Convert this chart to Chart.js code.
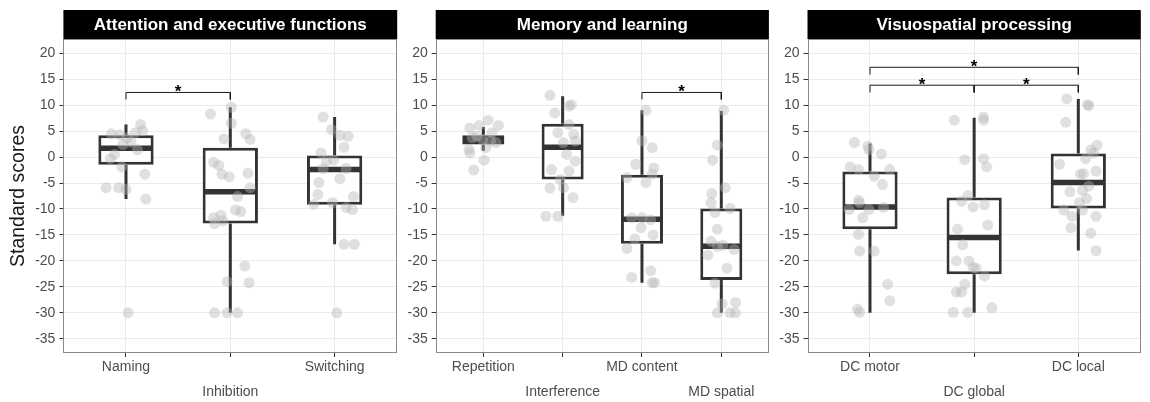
<!DOCTYPE html>
<html>
<head>
<meta charset="utf-8">
<script src="https://cdn.jsdelivr.net/npm/chart.js@4.4.1/dist/chart.umd.min.js"></script>
<style>
  html, body { margin: 0; padding: 0; background: #ffffff; }
  #wrap { position: relative; width: 1150px; height: 402px; overflow: hidden; }
  .panel { position: absolute; top: 0; height: 402px; }
</style>
</head>
<body>
<div id="wrap">
  <div class="panel" style="left:0px;width:400px"><canvas id="attn" width="400" height="402"></canvas></div>
  <div class="panel" style="left:400px;width:372px"><canvas id="mem" width="372" height="402"></canvas></div>
  <div class="panel" style="left:772px;width:378px"><canvas id="vis" width="378" height="402"></canvas></div>
</div>
<script>
// ---------- Attention and executive functions ----------
const attnTests  = ['Naming', 'Inhibition', 'Switching'];
const attnQ1     = [-1.5, -12.8, -9.2];
const attnMedian = [1.7, -6.7, -2.4];
const attnQ3     = [4.2, 1.8, 0.3];
const attnLower  = [-8.1, -30, -16.8];
const attnUpper  = [6.3, 9.6, 7.7];

const namingScores = [6.3, 5.1, 4.5, 4.3, 4.7, 3.7, 2.9, 2.4, 1.4, 0.5, -0.3, -1.9, -3.3, -5.9, -5.9, -6.2, -8.1, -30];
const namingJitter = [0.14, 0.16, -0.14, -0.06, 0.09, 0.01, 0.05, -0.03, 0.11, -0.11, -0.15, -0.04, 0.18, -0.19, -0.07, 0.0, 0.19, 0.02];
const inhibitionScores = [8.3, 9.6, 6.5, 3.5, 4.5, 3.4, -1.0, -1.6, -3.3, -3.8, -3.1, -5.9, -7.6, -10.2, -10.5, -11.2, -11.7, -12.8, -12.3, -21.0, -24.0, -24.2, -30, -30, -30];
const inhibitionJitter = [-0.19, 0.01, 0.01, -0.06, 0.15, 0.19, -0.16, -0.11, -0.08, -0.01, 0.17, 0.19, 0.07, 0.05, 0.10, -0.09, -0.16, -0.15, -0.07, 0.14, -0.03, 0.18, -0.15, -0.03, 0.07];
const switchingScores = [7.7, 5.3, 4.2, 4.0, 1.9, 0.8, -0.8, -0.6, -2.2, -2.2, -4.2, -4.9, -7.2, -9.1, -8.8, -7.6, -9.7, -10.1, -16.8, -16.8, -30];
const switchingJitter = [-0.11, -0.03, 0.05, 0.13, 0.09, -0.13, -0.08, -0.01, -0.11, 0.11, 0.05, -0.15, -0.16, -0.20, -0.02, 0.18, 0.11, 0.17, 0.09, 0.19, 0.02];
const attnBrackets = [[0, 1, 12.45, 11.1]];

// ---------- Memory and learning ----------
const memTests  = ['Repetition', 'Interference', 'MD content', 'MD spatial'];
const memQ1     = [2.4, -4.3, -16.7, -23.7];
const memMedian = [3.3, 1.9, -12.0, -17.2];
const memQ3     = [4.2, 6.4, -3.4, -9.9];
const memLower  = [1.2, -11.3, -24.2, -30];
const memUpper  = [5.8, 11.7, 9.0, 8.9];

const repetitionScores = [5.6, 6.1, 7.1, 6.1, 4.7, 2.8, 3.7, 3.4, 1.5, 0.8, 1.8, -0.6, -2.5, 4.0, 3.1];
const repetitionJitter = [-0.17, -0.05, 0.06, 0.19, 0.11, 0.16, -0.14, -0.01, -0.18, -0.17, 0.03, 0.01, -0.12, -0.08, 0.09];
const interferenceScores = [11.9, 10.1, 9.8, 8.5, 6.3, 4.7, 4.4, 3.1, 2.8, 0.5, -0.8, -2.4, -2.7, -4.3, -6.0, -5.9, -7.8, -11.4, -11.4];
const interferenceJitter = [-0.16, 0.11, 0.08, -0.10, 0.08, -0.06, 0.14, 0.16, 0.01, 0.05, 0.16, -0.14, 0.08, -0.03, -0.16, 0.01, 0.13, -0.21, -0.06];
const mdContentScores = [9.0, 3.1, 1.8, -1.4, -2.1, -3.3, -4.0, -4.9, -11.7, -11.7, -12.1, -13.6, -15.8, -15.0, -17.6, -23.2, -21.9, -24.2, -24.2];
const mdContentJitter = [0.05, 0.0, 0.13, -0.08, 0.15, 0.13, -0.19, 0.05, -0.13, 0.0, 0.11, -0.01, -0.09, 0.14, -0.19, -0.13, 0.11, 0.13, 0.16];
const mdSpatialScores = [9.0, 2.3, -0.6, -5.9, -7.0, -8.8, -9.9, -10.7, -13.9, -16.2, -17.0, -17.2, -17.8, -18.9, -21.4, -24.3, -28.3, -28.0, -30, -30, -30];
const mdSpatialJitter = [0.03, -0.05, -0.11, 0.05, -0.12, -0.13, 0.11, -0.08, -0.05, -0.13, 0.02, -0.05, 0.16, -0.17, 0.07, -0.08, 0.01, 0.18, -0.05, 0.11, 0.18];
const memBrackets = [[2, 3, 12.45, 11.1]];

// ---------- Visuospatial processing ----------
const visTests  = ['DC motor', 'DC global', 'DC local'];
const visQ1     = [-13.9, -22.6, -9.9];
const visMedian = [-9.6, -15.5, -4.9];
const visQ3     = [-2.8, -7.8, 0.7];
const visLower  = [-30, -30, -18.0];
const visUpper  = [2.6, 7.6, 11.2];

const dcMotorScores = [2.8, 2.1, 1.4, 0.6, -1.9, -2.4, -2.4, -3.7, -5.3, -8.3, -8.8, -10.1, -10.1, -9.7, -11.7, -14.9, -18.1, -18.1, -24.5, -27.7, -29.3, -29.9];
const dcMotorJitter = [-0.15, -0.02, -0.01, 0.11, -0.19, -0.11, 0.19, 0.04, 0.12, -0.11, -0.10, -0.20, -0.01, 0.13, -0.07, -0.11, -0.10, 0.04, 0.17, 0.19, -0.12, -0.10];
const dcGlobalScores = [7.1, 7.7, 7.1, -0.5, -0.3, -1.9, -7.4, -8.5, -9.6, -9.2, -13.1, -13.9, -16.9, -20.0, -20.0, -21.3, -21.4, -22.9, -24.5, -26.0, -26.0, -29.0, -29.9, -29.9];
const dcGlobalJitter = [-0.19, 0.09, 0.09, -0.09, 0.09, 0.12, -0.06, -0.12, -0.01, 0.10, 0.13, -0.16, -0.11, -0.17, -0.05, -0.01, 0.02, 0.10, -0.09, -0.12, -0.17, 0.17, -0.20, -0.06];
const dcLocalScores = [11.2, 10.1, 9.9, 6.7, 2.3, 1.4, 0.8, -0.3, -1.4, -2.7, -3.3, -3.2, -5.6, -6.4, -6.7, -8.0, -8.8, -10.2, -10.2, -11.4, -11.4, -13.6, -14.7, -18.0];
const dcLocalJitter = [-0.11, 0.09, 0.10, -0.12, 0.18, 0.12, 0.15, 0.07, -0.18, 0.17, 0.02, 0.05, 0.10, 0.04, -0.08, 0.08, 0.01, -0.14, 0.04, -0.06, 0.17, -0.07, 0.12, 0.17];
const visBrackets = [[0, 2, 17.3, 15.9], [0, 1, 13.85, 12.45], [1, 2, 13.85, 12.45]];

// Shared y-axis: standard scores
const yTickValues = [];
for (let v = -35; v <= 20; v += 2.5) yTickValues.push(v);
const Y_MIN = -37.75, Y_MAX = 22.75;

const FONT = "'Liberation Sans', Arial, Helvetica, sans-serif";
const INK = '#333333';

// Strip header, panel frame and significance stars
const facetPlugin = {
  id: 'facet',
  afterDraw(chart, args, opts) {
    const { ctx, chartArea: a, scales } = chart;
    ctx.save();
    ctx.strokeStyle = '#8a8a8a';
    ctx.lineWidth = 1;
    ctx.strokeRect(Math.round(a.left) + 0.5, Math.round(a.top) + 0.5,
                   Math.round(a.right - a.left) - 1, Math.round(a.bottom - a.top) - 1);
    ctx.fillStyle = '#000000';
    ctx.fillRect(a.left, 10, a.right - a.left, a.top - 10);
    ctx.fillStyle = '#ffffff';
    ctx.font = 'bold 17px ' + FONT;
    ctx.textAlign = 'center';
    ctx.textBaseline = 'middle';
    ctx.fillText(opts.title, (a.left + a.right) / 2, (10 + a.top) / 2 + 0.5);
    ctx.fillStyle = '#000000';
    ctx.font = 'bold 17px ' + FONT;
    ctx.textBaseline = 'alphabetic';
    opts.brackets.forEach(([from, to, level]) => {
      const x = scales.x.getPixelForValue((from + to) / 2);
      const y = scales.y.getPixelForValue(level);
      ctx.fillText('*', x, y + 4.5);
    });
    ctx.restore();
  }
};

function makePanel(id, title, tests, q1, med, q3, lo, hi, groups, brackets, yWidth, padRight, yTitle) {
  const whiskers = [], medians = [], boxes = [], points = [], links = [];
  tests.forEach((t, i) => {
    whiskers.push({ x: i, y: lo[i] }, { x: i, y: q1[i] }, { x: i, y: null });
    whiskers.push({ x: i, y: q3[i] }, { x: i, y: hi[i] }, { x: i, y: null });
    medians.push({ x: i - 0.25, y: med[i] }, { x: i + 0.25, y: med[i] }, { x: i, y: null });
    boxes.push({ x: i, y: [q1[i], q3[i]] });
    const [jit, sc] = groups[i];
    sc.forEach((s, k) => points.push({ x: i + jit[k], y: s }));
  });
  brackets.forEach(([from, to, level, tip]) => {
    links.push({ x: from, y: tip }, { x: from, y: level }, { x: to, y: level }, { x: to, y: tip }, { x: to, y: null });
  });

  const lineBase = { type: 'line', pointRadius: 0, fill: false, tension: 0, spanGaps: false, borderCapStyle: 'butt' };

  return new Chart(document.getElementById(id), {
    type: 'bar',
    data: {
      datasets: [
        Object.assign({}, lineBase, { data: whiskers, borderColor: INK, borderWidth: 3, order: 4 }),
        { type: 'bar', data: boxes, backgroundColor: '#ffffff', borderColor: INK, borderWidth: 3,
          borderSkipped: false, categoryPercentage: 1, barPercentage: 0.53, grouped: false, order: 3 },
        Object.assign({}, lineBase, { data: medians, borderColor: INK, borderWidth: 5.5, order: 2 }),
        Object.assign({}, lineBase, { data: links, borderColor: '#1a1a1a', borderWidth: 1, order: 1 }),
        { type: 'scatter', data: points, backgroundColor: 'rgba(180,180,180,0.42)', borderWidth: 0,
          pointRadius: 5.5, order: 0 }
      ]
    },
    options: {
      responsive: false,
      animation: false,
      events: [],
      devicePixelRatio: 1,
      layout: { autoPadding: false, padding: { top: 39, right: padRight, left: 0, bottom: 0 } },
      plugins: {
        legend: { display: false },
        tooltip: { enabled: false },
        facet: { title: title, brackets: brackets }
      },
      scales: {
        x: {
          type: 'linear',
          min: -0.6,
          max: tests.length - 0.4,
          offset: false,
          afterBuildTicks: (s) => { s.ticks = tests.map((t, i) => ({ value: i })); },
          afterFit: (s) => { s.height = 49; s.paddingLeft = 0; s.paddingRight = 0; },
          border: { display: false },
          grid: { offset: false, color: '#ebebeb', lineWidth: 1, tickColor: INK, tickLength: 4 },
          ticks: {
            autoSkip: false, maxRotation: 0, minRotation: 0,
            padding: -2.6, color: '#4d4d4d',
            font: { family: FONT, size: 14, lineHeight: 1.8 },
            callback: (v, i) => (i % 2 ? ['', tests[i]] : tests[i])
          }
        },
        y: {
          type: 'linear',
          min: Y_MIN,
          max: Y_MAX,
          afterBuildTicks: (s) => { s.ticks = yTickValues.map(v => ({ value: v })); },
          afterFit: (s) => { s.width = yWidth; s.paddingTop = 0; s.paddingBottom = 0; },
          border: { display: false },
          grid: {
            color: (c) => (c.tick && c.tick.value % 5 === 0 ? '#ebebeb' : '#eeeeee'),
            lineWidth: 1,
            tickColor: (c) => (c.tick && c.tick.value % 5 === 0 ? INK : 'rgba(0,0,0,0)'),
            tickLength: 4
          },
          ticks: {
            padding: 4, color: '#4d4d4d',
            font: { family: FONT, size: 14 },
            callback: (v) => (v % 5 === 0 ? String(v) : '')
          },
          title: {
            display: yTitle,
            text: 'Standard scores',
            color: '#1a1a1a',
            font: { family: FONT, size: 19.5 },
            padding: { top: 6.5, bottom: 0 }
          }
        }
      }
    },
    plugins: [facetPlugin]
  });
}

makePanel('attn', 'Attention and executive functions', attnTests,
  attnQ1, attnMedian, attnQ3, attnLower, attnUpper,
  [[namingJitter, namingScores], [inhibitionJitter, inhibitionScores], [switchingJitter, switchingScores]],
  attnBrackets, 63.4, 2.8, true);

makePanel('mem', 'Memory and learning', memTests,
  memQ1, memMedian, memQ3, memLower, memUpper,
  [[repetitionJitter, repetitionScores], [interferenceJitter, interferenceScores],
   [mdContentJitter, mdContentScores], [mdSpatialJitter, mdSpatialScores]],
  memBrackets, 35.7, 3.1, false);

makePanel('vis', 'Visuospatial processing', visTests,
  visQ1, visMedian, visQ3, visLower, visUpper,
  [[dcMotorJitter, dcMotorScores], [dcGlobalJitter, dcGlobalScores], [dcLocalJitter, dcLocalScores]],
  visBrackets, 35.5, 9.2, false);
</script>
</body>
</html>
